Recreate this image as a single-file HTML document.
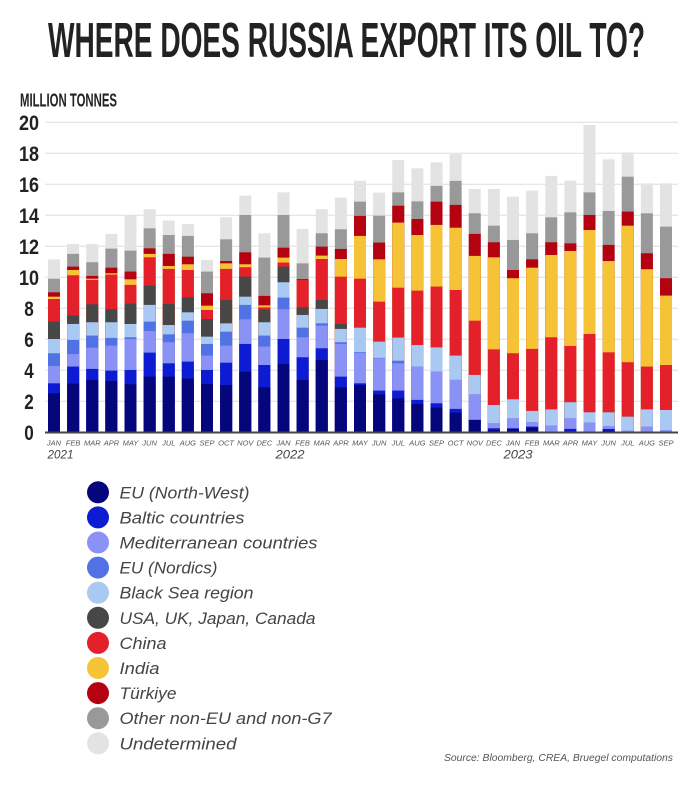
<!DOCTYPE html>
<html><head><meta charset="utf-8"><style>
html,body{margin:0;padding:0;background:#fff;}
svg{display:block;}
.a{fill:#06067c}.b{fill:#0d1bd2}.c{fill:#8b92f5}.d{fill:#5072e5}.e{fill:#a9c9f3}.f{fill:#474747}.g{fill:#e4202a}.h{fill:#f6c236}.i{fill:#b50211}.j{fill:#999999}.k{fill:#e3e3e3}
.m{font-family:"Liberation Sans",sans-serif;font-style:italic;font-size:7.5px;fill:#555;text-anchor:middle;}
.y{font-family:"Liberation Sans",sans-serif;font-weight:bold;font-size:21px;fill:#222;text-anchor:middle;}
.l{font-family:"Liberation Sans",sans-serif;font-style:italic;font-size:16.5px;fill:#444;}
</style></head><body>
<svg width="690" height="794" viewBox="0 0 690 794" xmlns="http://www.w3.org/2000/svg">
<rect width="690" height="794" fill="#fff"/>
<text x="48" y="57" font-family="Liberation Sans, sans-serif" font-weight="bold" font-size="49" fill="#222" textLength="597" lengthAdjust="spacingAndGlyphs">WHERE DOES RUSSIA EXPORT ITS OIL TO?</text>
<text x="20" y="106.5" font-family="Liberation Sans, sans-serif" font-weight="bold" font-size="18.5" fill="#222" textLength="97" lengthAdjust="spacingAndGlyphs">MILLION TONNES</text>

<g stroke="#dedede" stroke-width="1">
<line x1="45" x2="678" y1="122.3" y2="122.3"/>
<line x1="45" x2="678" y1="153.3" y2="153.3"/>
<line x1="45" x2="678" y1="184.3" y2="184.3"/>
<line x1="45" x2="678" y1="215.3" y2="215.3"/>
<line x1="45" x2="678" y1="246.3" y2="246.3"/>
<line x1="45" x2="678" y1="277.3" y2="277.3"/>
<line x1="45" x2="678" y1="308.3" y2="308.3"/>
<line x1="45" x2="678" y1="339.3" y2="339.3"/>
<line x1="45" x2="678" y1="370.3" y2="370.3"/>
<line x1="45" x2="678" y1="401.3" y2="401.3"/>
</g>

<text class="y" x="29" y="129.8" textLength="20" lengthAdjust="spacingAndGlyphs">20</text>
<text class="y" x="29" y="160.8" textLength="20" lengthAdjust="spacingAndGlyphs">18</text>
<text class="y" x="29" y="191.8" textLength="20" lengthAdjust="spacingAndGlyphs">16</text>
<text class="y" x="29" y="222.8" textLength="20" lengthAdjust="spacingAndGlyphs">14</text>
<text class="y" x="29" y="253.8" textLength="20" lengthAdjust="spacingAndGlyphs">12</text>
<text class="y" x="29" y="284.8" textLength="20" lengthAdjust="spacingAndGlyphs">10</text>
<text class="y" x="29" y="315.8" textLength="9.5" lengthAdjust="spacingAndGlyphs">8</text>
<text class="y" x="29" y="346.8" textLength="9.5" lengthAdjust="spacingAndGlyphs">6</text>
<text class="y" x="29" y="377.8" textLength="9.5" lengthAdjust="spacingAndGlyphs">4</text>
<text class="y" x="29" y="408.8" textLength="9.5" lengthAdjust="spacingAndGlyphs">2</text>
<text class="y" x="29" y="439.8" textLength="9.5" lengthAdjust="spacingAndGlyphs">0</text>

<!-- bars: cumulative heights, drawn largest first -->
<g transform="translate(48,432.3) scale(1,-15.5)"><rect class="k" width="12" height="11.16"/><rect class="j" width="12" height="9.91"/><rect class="i" width="12" height="9.03"/><rect class="h" width="12" height="8.75"/><rect class="g" width="12" height="8.60"/><rect class="f" width="12" height="7.14"/><rect class="e" width="12" height="6.02"/><rect class="d" width="12" height="5.10"/><rect class="c" width="12" height="4.28"/><rect class="b" width="12" height="3.16"/><rect class="a" width="12" height="2.52"/></g>
<g transform="translate(67.125,432.3) scale(1,-15.5)"><rect class="k" width="12" height="12.15"/><rect class="j" width="12" height="11.51"/><rect class="i" width="12" height="10.69"/><rect class="h" width="12" height="10.47"/><rect class="g" width="12" height="10.13"/><rect class="f" width="12" height="7.53"/><rect class="e" width="12" height="6.99"/><rect class="d" width="12" height="5.96"/><rect class="c" width="12" height="5.05"/><rect class="b" width="12" height="4.24"/><rect class="a" width="12" height="3.14"/></g>
<g transform="translate(86.25,432.3) scale(1,-15.5)"><rect class="k" width="12" height="12.15"/><rect class="j" width="12" height="10.97"/><rect class="i" width="12" height="10.09"/><rect class="h" width="12" height="9.91"/><rect class="g" width="12" height="9.83"/><rect class="f" width="12" height="8.26"/><rect class="e" width="12" height="7.10"/><rect class="d" width="12" height="6.24"/><rect class="c" width="12" height="5.46"/><rect class="b" width="12" height="4.09"/><rect class="a" width="12" height="3.38"/></g>
<g transform="translate(105.375,432.3) scale(1,-15.5)"><rect class="k" width="12" height="12.80"/><rect class="j" width="12" height="11.85"/><rect class="i" width="12" height="10.62"/><rect class="h" width="12" height="10.26"/><rect class="g" width="12" height="10.17"/><rect class="f" width="12" height="7.94"/><rect class="e" width="12" height="7.10"/><rect class="d" width="12" height="6.09"/><rect class="c" width="12" height="5.59"/><rect class="b" width="12" height="3.98"/><rect class="a" width="12" height="3.31"/></g>
<g transform="translate(124.5,432.3) scale(1,-15.5)"><rect class="k" width="12" height="13.98"/><rect class="j" width="12" height="11.72"/><rect class="i" width="12" height="10.37"/><rect class="h" width="12" height="9.87"/><rect class="g" width="12" height="9.51"/><rect class="f" width="12" height="8.30"/><rect class="e" width="12" height="6.99"/><rect class="d" width="12" height="6.13"/><rect class="c" width="12" height="6.02"/><rect class="b" width="12" height="4.02"/><rect class="a" width="12" height="3.10"/></g>
<g transform="translate(143.625,432.3) scale(1,-15.5)"><rect class="k" width="12" height="14.39"/><rect class="j" width="12" height="13.16"/><rect class="i" width="12" height="11.87"/><rect class="h" width="12" height="11.51"/><rect class="g" width="12" height="11.29"/><rect class="f" width="12" height="9.46"/><rect class="e" width="12" height="8.22"/><rect class="d" width="12" height="7.14"/><rect class="c" width="12" height="6.54"/><rect class="b" width="12" height="5.14"/><rect class="a" width="12" height="3.59"/></g>
<g transform="translate(162.75,432.3) scale(1,-15.5)"><rect class="k" width="12" height="13.66"/><rect class="j" width="12" height="12.73"/><rect class="i" width="12" height="11.51"/><rect class="h" width="12" height="10.73"/><rect class="g" width="12" height="10.54"/><rect class="f" width="12" height="8.28"/><rect class="e" width="12" height="6.92"/><rect class="d" width="12" height="6.32"/><rect class="c" width="12" height="5.81"/><rect class="b" width="12" height="4.45"/><rect class="a" width="12" height="3.59"/></g>
<g transform="translate(181.875,432.3) scale(1,-15.5)"><rect class="k" width="12" height="13.44"/><rect class="j" width="12" height="12.67"/><rect class="i" width="12" height="11.33"/><rect class="h" width="12" height="10.84"/><rect class="g" width="12" height="10.47"/><rect class="f" width="12" height="8.71"/><rect class="e" width="12" height="7.74"/><rect class="d" width="12" height="7.20"/><rect class="c" width="12" height="6.39"/><rect class="b" width="12" height="4.56"/><rect class="a" width="12" height="3.46"/></g>
<g transform="translate(201,432.3) scale(1,-15.5)"><rect class="k" width="12" height="11.12"/><rect class="j" width="12" height="10.37"/><rect class="i" width="12" height="8.97"/><rect class="h" width="12" height="8.17"/><rect class="g" width="12" height="7.89"/><rect class="f" width="12" height="7.31"/><rect class="e" width="12" height="6.17"/><rect class="d" width="12" height="5.70"/><rect class="c" width="12" height="4.95"/><rect class="b" width="12" height="4.02"/><rect class="a" width="12" height="3.12"/></g>
<g transform="translate(220.125,432.3) scale(1,-15.5)"><rect class="k" width="12" height="13.87"/><rect class="j" width="12" height="12.45"/><rect class="i" width="12" height="11.05"/><rect class="h" width="12" height="10.90"/><rect class="g" width="12" height="10.54"/><rect class="f" width="12" height="8.54"/><rect class="e" width="12" height="7.03"/><rect class="d" width="12" height="6.49"/><rect class="c" width="12" height="5.59"/><rect class="b" width="12" height="4.49"/><rect class="a" width="12" height="3.05"/></g>
<g transform="translate(239.25,432.3) scale(1,-15.5)"><rect class="k" width="12" height="15.27"/><rect class="j" width="12" height="14.02"/><rect class="i" width="12" height="11.61"/><rect class="h" width="12" height="10.84"/><rect class="g" width="12" height="10.65"/><rect class="f" width="12" height="10.04"/><rect class="e" width="12" height="8.75"/><rect class="d" width="12" height="8.22"/><rect class="c" width="12" height="7.29"/><rect class="b" width="12" height="5.70"/><rect class="a" width="12" height="3.91"/></g>
<g transform="translate(258.375,432.3) scale(1,-15.5)"><rect class="k" width="12" height="12.84"/><rect class="j" width="12" height="11.27"/><rect class="i" width="12" height="8.80"/><rect class="h" width="12" height="8.19"/><rect class="g" width="12" height="8.06"/><rect class="f" width="12" height="7.94"/><rect class="e" width="12" height="7.10"/><rect class="d" width="12" height="6.24"/><rect class="c" width="12" height="5.53"/><rect class="b" width="12" height="4.34"/><rect class="a" width="12" height="2.90"/></g>
<g transform="translate(277.5,432.3) scale(1,-15.5)"><rect class="k" width="12" height="15.48"/><rect class="j" width="12" height="14.02"/><rect class="i" width="12" height="11.91"/><rect class="h" width="12" height="11.27"/><rect class="g" width="12" height="10.95"/><rect class="f" width="12" height="10.69"/><rect class="e" width="12" height="9.68"/><rect class="d" width="12" height="8.69"/><rect class="c" width="12" height="7.94"/><rect class="b" width="12" height="6.02"/><rect class="a" width="12" height="4.41"/></g>
<g transform="translate(296.625,432.3) scale(1,-15.5)"><rect class="k" width="12" height="13.12"/><rect class="j" width="12" height="10.90"/><rect class="i" width="12" height="9.89"/><rect class="h" width="12" height="9.83"/><rect class="g" width="12" height="9.83"/><rect class="f" width="12" height="8.06"/><rect class="e" width="12" height="7.57"/><rect class="d" width="12" height="6.75"/><rect class="c" width="12" height="6.13"/><rect class="b" width="12" height="4.84"/><rect class="a" width="12" height="3.38"/></g>
<g transform="translate(315.75,432.3) scale(1,-15.5)"><rect class="k" width="12" height="14.39"/><rect class="j" width="12" height="12.84"/><rect class="i" width="12" height="11.98"/><rect class="h" width="12" height="11.40"/><rect class="g" width="12" height="11.18"/><rect class="f" width="12" height="8.54"/><rect class="e" width="12" height="7.96"/><rect class="d" width="12" height="7.03"/><rect class="c" width="12" height="6.88"/><rect class="b" width="12" height="5.42"/><rect class="a" width="12" height="4.67"/></g>
<g transform="translate(334.875,432.3) scale(1,-15.5)"><rect class="k" width="12" height="15.14"/><rect class="j" width="12" height="13.10"/><rect class="i" width="12" height="11.83"/><rect class="h" width="12" height="11.18"/><rect class="g" width="12" height="10.04"/><rect class="f" width="12" height="6.99"/><rect class="e" width="12" height="6.67"/><rect class="d" width="12" height="5.81"/><rect class="c" width="12" height="5.70"/><rect class="b" width="12" height="3.59"/><rect class="a" width="12" height="2.90"/></g>
<g transform="translate(354,432.3) scale(1,-15.5)"><rect class="k" width="12" height="16.23"/><rect class="j" width="12" height="14.88"/><rect class="i" width="12" height="13.96"/><rect class="h" width="12" height="12.67"/><rect class="g" width="12" height="9.91"/><rect class="f" width="12" height="6.75"/><rect class="e" width="12" height="6.75"/><rect class="d" width="12" height="5.18"/><rect class="c" width="12" height="5.14"/><rect class="b" width="12" height="3.16"/><rect class="a" width="12" height="3.05"/></g>
<g transform="translate(373.125,432.3) scale(1,-15.5)"><rect class="k" width="12" height="15.46"/><rect class="j" width="12" height="13.98"/><rect class="i" width="12" height="12.24"/><rect class="h" width="12" height="11.16"/><rect class="g" width="12" height="8.43"/><rect class="f" width="12" height="5.85"/><rect class="e" width="12" height="5.85"/><rect class="d" width="12" height="4.80"/><rect class="c" width="12" height="4.77"/><rect class="b" width="12" height="2.69"/><rect class="a" width="12" height="2.45"/></g>
<g transform="translate(392.25,432.3) scale(1,-15.5)"><rect class="k" width="12" height="17.57"/><rect class="j" width="12" height="15.48"/><rect class="i" width="12" height="14.62"/><rect class="h" width="12" height="13.53"/><rect class="g" width="12" height="9.33"/><rect class="f" width="12" height="6.11"/><rect class="e" width="12" height="6.11"/><rect class="d" width="12" height="4.62"/><rect class="c" width="12" height="4.45"/><rect class="b" width="12" height="2.69"/><rect class="a" width="12" height="2.19"/></g>
<g transform="translate(411.375,432.3) scale(1,-15.5)"><rect class="k" width="12" height="17.03"/><rect class="j" width="12" height="14.90"/><rect class="i" width="12" height="13.76"/><rect class="h" width="12" height="12.73"/><rect class="g" width="12" height="9.14"/><rect class="f" width="12" height="5.63"/><rect class="e" width="12" height="5.63"/><rect class="d" width="12" height="4.24"/><rect class="c" width="12" height="4.24"/><rect class="b" width="12" height="2.09"/><rect class="a" width="12" height="1.83"/></g>
<g transform="translate(430.5,432.3) scale(1,-15.5)"><rect class="k" width="12" height="17.42"/><rect class="j" width="12" height="15.90"/><rect class="i" width="12" height="14.88"/><rect class="h" width="12" height="13.38"/><rect class="g" width="12" height="9.40"/><rect class="f" width="12" height="5.48"/><rect class="e" width="12" height="5.48"/><rect class="d" width="12" height="3.91"/><rect class="c" width="12" height="3.91"/><rect class="b" width="12" height="1.87"/><rect class="a" width="12" height="1.59"/></g>
<g transform="translate(449.625,432.3) scale(1,-15.5)"><rect class="k" width="12" height="17.95"/><rect class="j" width="12" height="16.22"/><rect class="i" width="12" height="14.67"/><rect class="h" width="12" height="13.20"/><rect class="g" width="12" height="9.18"/><rect class="f" width="12" height="4.95"/><rect class="e" width="12" height="4.95"/><rect class="d" width="12" height="3.38"/><rect class="c" width="12" height="3.38"/><rect class="b" width="12" height="1.51"/><rect class="a" width="12" height="1.27"/></g>
<g transform="translate(468.75,432.3) scale(1,-15.5)"><rect class="k" width="12" height="15.70"/><rect class="j" width="12" height="14.13"/><rect class="i" width="12" height="12.80"/><rect class="h" width="12" height="11.38"/><rect class="g" width="12" height="7.20"/><rect class="f" width="12" height="3.70"/><rect class="e" width="12" height="3.70"/><rect class="d" width="12" height="2.45"/><rect class="c" width="12" height="2.45"/><rect class="b" width="12" height="0.80"/><rect class="a" width="12" height="0.80"/></g>
<g transform="translate(487.875,432.3) scale(1,-15.5)"><rect class="k" width="12" height="15.70"/><rect class="j" width="12" height="13.33"/><rect class="i" width="12" height="12.26"/><rect class="h" width="12" height="11.29"/><rect class="g" width="12" height="5.35"/><rect class="f" width="12" height="1.76"/><rect class="e" width="12" height="1.76"/><rect class="d" width="12" height="0.58"/><rect class="c" width="12" height="0.58"/><rect class="b" width="12" height="0.26"/><rect class="a" width="12" height="0.15"/></g>
<g transform="translate(507,432.3) scale(1,-15.5)"><rect class="k" width="12" height="15.20"/><rect class="j" width="12" height="12.41"/><rect class="i" width="12" height="10.47"/><rect class="h" width="12" height="9.94"/><rect class="g" width="12" height="5.10"/><rect class="f" width="12" height="2.13"/><rect class="e" width="12" height="2.13"/><rect class="d" width="12" height="0.90"/><rect class="c" width="12" height="0.90"/><rect class="b" width="12" height="0.26"/><rect class="a" width="12" height="0.22"/></g>
<g transform="translate(526.125,432.3) scale(1,-15.5)"><rect class="k" width="12" height="15.59"/><rect class="j" width="12" height="12.84"/><rect class="i" width="12" height="11.16"/><rect class="h" width="12" height="10.62"/><rect class="g" width="12" height="5.38"/><rect class="f" width="12" height="1.38"/><rect class="e" width="12" height="1.38"/><rect class="d" width="12" height="0.65"/><rect class="c" width="12" height="0.65"/><rect class="b" width="12" height="0.37"/><rect class="a" width="12" height="0.30"/></g>
<g transform="translate(545.25,432.3) scale(1,-15.5)"><rect class="k" width="12" height="16.54"/><rect class="j" width="12" height="13.87"/><rect class="i" width="12" height="12.26"/><rect class="h" width="12" height="11.44"/><rect class="g" width="12" height="6.13"/><rect class="f" width="12" height="1.48"/><rect class="e" width="12" height="1.48"/><rect class="d" width="12" height="0.43"/><rect class="c" width="12" height="0.43"/></g>
<g transform="translate(564.375,432.3) scale(1,-15.5)"><rect class="k" width="12" height="16.24"/><rect class="j" width="12" height="14.19"/><rect class="i" width="12" height="12.19"/><rect class="h" width="12" height="11.70"/><rect class="g" width="12" height="5.57"/><rect class="f" width="12" height="1.94"/><rect class="e" width="12" height="1.94"/><rect class="d" width="12" height="0.90"/><rect class="c" width="12" height="0.90"/><rect class="b" width="12" height="0.22"/></g>
<g transform="translate(583.5,432.3) scale(1,-15.5)"><rect class="k" width="12" height="19.83"/><rect class="j" width="12" height="15.48"/><rect class="i" width="12" height="14.02"/><rect class="h" width="12" height="13.05"/><rect class="g" width="12" height="6.34"/><rect class="f" width="12" height="1.29"/><rect class="e" width="12" height="1.29"/><rect class="d" width="12" height="0.62"/><rect class="c" width="12" height="0.62"/><rect class="b" width="12" height="0.03"/></g>
<g transform="translate(602.625,432.3) scale(1,-15.5)"><rect class="k" width="12" height="17.61"/><rect class="j" width="12" height="14.28"/><rect class="i" width="12" height="12.09"/><rect class="h" width="12" height="11.05"/><rect class="g" width="12" height="5.16"/><rect class="f" width="12" height="1.29"/><rect class="e" width="12" height="1.29"/><rect class="d" width="12" height="0.41"/><rect class="c" width="12" height="0.41"/><rect class="b" width="12" height="0.22"/><rect class="a" width="12" height="0.11"/></g>
<g transform="translate(621.75,432.3) scale(1,-15.5)"><rect class="k" width="12" height="18.06"/><rect class="j" width="12" height="16.49"/><rect class="i" width="12" height="14.24"/><rect class="h" width="12" height="13.33"/><rect class="g" width="12" height="4.52"/><rect class="f" width="12" height="1.01"/><rect class="e" width="12" height="1.01"/><rect class="c" width="12" height="0.11"/></g>
<g transform="translate(640.875,432.3) scale(1,-15.5)"><rect class="k" width="12" height="16.06"/><rect class="j" width="12" height="14.13"/><rect class="i" width="12" height="11.55"/><rect class="h" width="12" height="10.52"/><rect class="g" width="12" height="4.24"/><rect class="f" width="12" height="1.48"/><rect class="e" width="12" height="1.48"/><rect class="c" width="12" height="0.37"/></g>
<g transform="translate(660,432.3) scale(1,-15.5)"><rect class="k" width="12" height="16.06"/><rect class="j" width="12" height="13.27"/><rect class="i" width="12" height="9.94"/><rect class="h" width="12" height="8.82"/><rect class="g" width="12" height="4.34"/><rect class="f" width="12" height="1.44"/><rect class="e" width="12" height="1.44"/><rect class="c" width="12" height="0.15"/></g>

<line x1="45" x2="678" y1="432.5" y2="432.5" stroke="#444" stroke-width="2"/>

<g>
<text class="m" x="54" y="445.5">JAN</text>
<text class="m" x="73.1" y="445.5">FEB</text>
<text class="m" x="92.3" y="445.5">MAR</text>
<text class="m" x="111.4" y="445.5">APR</text>
<text class="m" x="130.5" y="445.5">MAY</text>
<text class="m" x="149.6" y="445.5">JUN</text>
<text class="m" x="168.8" y="445.5">JUL</text>
<text class="m" x="187.9" y="445.5">AUG</text>
<text class="m" x="207" y="445.5">SEP</text>
<text class="m" x="226.1" y="445.5">OCT</text>
<text class="m" x="245.3" y="445.5">NOV</text>
<text class="m" x="264.4" y="445.5">DEC</text>
<text class="m" x="283.5" y="445.5">JAN</text>
<text class="m" x="302.6" y="445.5">FEB</text>
<text class="m" x="321.8" y="445.5">MAR</text>
<text class="m" x="340.9" y="445.5">APR</text>
<text class="m" x="360" y="445.5">MAY</text>
<text class="m" x="379.1" y="445.5">JUN</text>
<text class="m" x="398.3" y="445.5">JUL</text>
<text class="m" x="417.4" y="445.5">AUG</text>
<text class="m" x="436.5" y="445.5">SEP</text>
<text class="m" x="455.6" y="445.5">OCT</text>
<text class="m" x="474.8" y="445.5">NOV</text>
<text class="m" x="493.9" y="445.5">DEC</text>
<text class="m" x="513" y="445.5">JAN</text>
<text class="m" x="532.1" y="445.5">FEB</text>
<text class="m" x="551.3" y="445.5">MAR</text>
<text class="m" x="570.4" y="445.5">APR</text>
<text class="m" x="589.5" y="445.5">MAY</text>
<text class="m" x="608.6" y="445.5">JUN</text>
<text class="m" x="627.8" y="445.5">JUL</text>
<text class="m" x="646.9" y="445.5">AUG</text>
<text class="m" x="666" y="445.5">SEP</text>
</g>

<g font-family="Liberation Sans, sans-serif" font-style="italic" font-size="12" fill="#444">
<text x="47.5" y="458.5" textLength="26" lengthAdjust="spacingAndGlyphs">2021</text>
<text x="275.5" y="458.5" textLength="29" lengthAdjust="spacingAndGlyphs">2022</text>
<text x="503.5" y="458.5" textLength="29" lengthAdjust="spacingAndGlyphs">2023</text>
</g>

<g>
<circle cx="98" cy="492.3" r="11" fill="#06067c"/>
<circle cx="98" cy="517.4" r="11" fill="#0d1bd2"/>
<circle cx="98" cy="542.5" r="11" fill="#8b92f5"/>
<circle cx="98" cy="567.6" r="11" fill="#5072e5"/>
<circle cx="98" cy="592.7" r="11" fill="#a9c9f3"/>
<circle cx="98" cy="617.8" r="11" fill="#474747"/>
<circle cx="98" cy="642.9" r="11" fill="#e4202a"/>
<circle cx="98" cy="668" r="11" fill="#f6c236"/>
<circle cx="98" cy="693.1" r="11" fill="#b50211"/>
<circle cx="98" cy="718.2" r="11" fill="#999999"/>
<circle cx="98" cy="743.3" r="11" fill="#e3e3e3"/>
</g>
<g>
<text class="l" x="119.5" y="498.3" textLength="130" lengthAdjust="spacingAndGlyphs">EU (North-West)</text>
<text class="l" x="119.5" y="523.4" textLength="125" lengthAdjust="spacingAndGlyphs">Baltic countries</text>
<text class="l" x="119.5" y="548.5" textLength="198" lengthAdjust="spacingAndGlyphs">Mediterranean countries</text>
<text class="l" x="119.5" y="573.6" textLength="98" lengthAdjust="spacingAndGlyphs">EU (Nordics)</text>
<text class="l" x="119.5" y="598.7" textLength="134" lengthAdjust="spacingAndGlyphs">Black Sea region</text>
<text class="l" x="119.5" y="623.8" textLength="196" lengthAdjust="spacingAndGlyphs">USA, UK, Japan, Canada</text>
<text class="l" x="119.5" y="648.9" textLength="47" lengthAdjust="spacingAndGlyphs">China</text>
<text class="l" x="119.5" y="674" textLength="40" lengthAdjust="spacingAndGlyphs">India</text>
<text class="l" x="119.5" y="699.1" textLength="57" lengthAdjust="spacingAndGlyphs">Türkiye</text>
<text class="l" x="119.5" y="724.2" textLength="212" lengthAdjust="spacingAndGlyphs">Other non-EU and non-G7</text>
<text class="l" x="119.5" y="749.3" textLength="117" lengthAdjust="spacingAndGlyphs">Undetermined</text>
</g>

<text x="444" y="761" font-family="Liberation Sans, sans-serif" font-style="italic" font-size="10" fill="#555" textLength="229" lengthAdjust="spacingAndGlyphs">Source: Bloomberg, CREA, Bruegel computations</text>
</svg>
</body></html>
